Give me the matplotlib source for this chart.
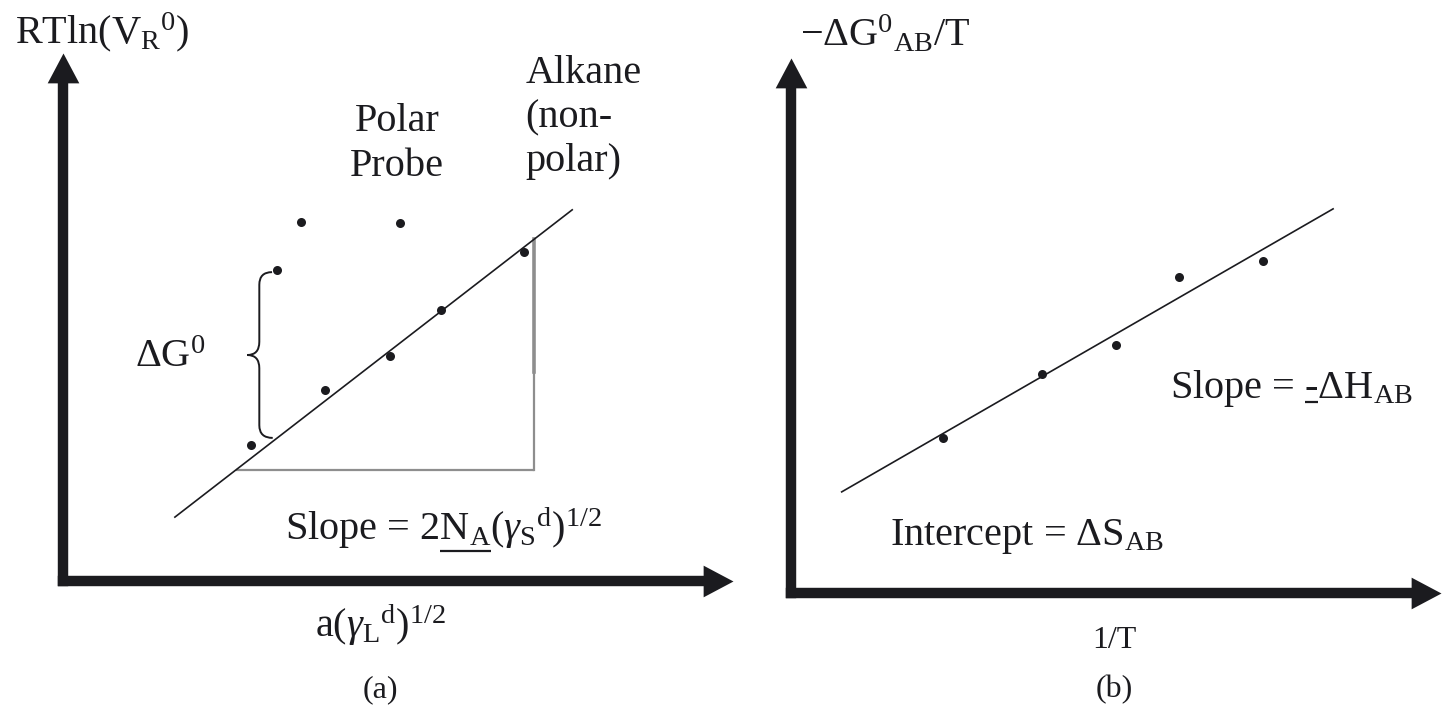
import numpy as np
import matplotlib.pyplot as plt
from matplotlib.path import Path
from matplotlib.patches import PathPatch

plt.rcParams['font.family'] = ['Liberation Serif', 'DejaVu Serif']
plt.rcParams['mathtext.fontset'] = 'custom'
plt.rcParams['mathtext.rm'] = 'Liberation Serif'
plt.rcParams['mathtext.it'] = 'Liberation Serif:italic'
plt.rcParams['mathtext.bf'] = 'Liberation Serif:bold'
plt.rcParams['mathtext.default'] = 'regular'

INK = '#1b1b1f'
GREY = '#8e8e8e'
FS = 29
FS_SMALL = 23

# panel (a): alkane series on the line, polar probes above it
alk_x = [2.81, 3.91, 4.88, 5.64, 6.88]
alk_y = [2.58, 3.62, 4.26, 5.13, 6.23]
polar_x = [3.19, 3.55, 5.03]
polar_y = [5.89, 6.80, 6.78]
line_a_x = [1.67, 7.60]
line_a_y = [1.21, 7.03]

# panel (b): van't Hoff style points and fitted line
vh_x = [2.34, 3.86, 5.00, 5.97, 7.26]
vh_y = [2.90, 4.09, 4.64, 5.91, 6.21]
line_b_x = [0.78, 8.34]
line_b_y = [1.89, 7.18]


def arrow_axes(ax, xmax, ymax):
    for side in ['top', 'right']:
        ax.spines[side].set_visible(False)
    for side in ['left', 'bottom']:
        ax.spines[side].set_linewidth(7.5)
        ax.spines[side].set_color(INK)
        ax.spines[side].set_capstyle('projecting')
    ax.spines['left'].set_bounds(0, ymax)
    ax.spines['bottom'].set_bounds(0, xmax)
    ax.set_xlim(0, 10)
    ax.set_ylim(0, 10)
    ax.set_xticks([])
    ax.set_yticks([])
    up = [(-0.53, -1), (0.53, -1), (0, 0), (-0.53, -1)]
    right = [(-1, -0.53), (-1, 0.53), (0, 0), (-1, -0.53)]
    ax.plot(0, 1, marker=up, ms=43, color=INK, mew=0,
            transform=ax.transAxes, clip_on=False)
    ax.plot(1, 0, marker=right, ms=43, color=INK, mew=0,
            transform=ax.transAxes, clip_on=False)


def underlined_text(ax, x, y, pre, mid, post, drop_px):
    # mathtext has no \underline, so measure the prefix and draw the rule
    kw = dict(fontsize=FS, color=INK, ha='left', va='baseline', clip_on=False)
    r = fig.canvas.get_renderer()
    x0, y0 = ax.transData.transform((x, y))
    w = []
    for s in (pre, pre + mid):
        t = ax.text(x, y, s, **kw)
        w.append(t.get_window_extent(r).width)
        t.remove()
    ax.text(x, y, pre + mid + post, **kw)
    inv = ax.transData.inverted()
    (ux0, uy), (ux1, _) = inv.transform([(x0 + w[0], y0 - drop_px),
                                          (x0 + w[1], y0 - drop_px)])
    ax.plot([ux0, ux1], [uy, uy], color=INK, lw=1.6, clip_on=False,
            solid_capstyle='butt')


fig = plt.figure(figsize=(14.43, 7.15), dpi=100)
fig.patch.set_facecolor('white')

ax1 = fig.add_axes([0.04366, 0.18741, 0.46431, 0.73846])
ax2 = fig.add_axes([0.54816, 0.17063, 0.45045, 0.74825])
for ax in (ax1, ax2):
    ax.patch.set_alpha(0)
arrow_axes(ax1, 9.7, 9.6)
arrow_axes(ax2, 9.7, 9.6)

# (a) slope triangle
tri_y = 2.10
tri_x0 = line_a_x[0] + (tri_y - line_a_y[0]) * (line_a_x[1] - line_a_x[0]) / (line_a_y[1] - line_a_y[0])
tri_x1 = 7.03
tri_top = line_a_y[0] + (tri_x1 - line_a_x[0]) * (line_a_y[1] - line_a_y[0]) / (line_a_x[1] - line_a_x[0])
ax1.plot([tri_x0, tri_x1], [tri_y, tri_y], color=GREY, lw=1.6, solid_capstyle='butt')
ax1.plot([tri_x1, tri_x1], [tri_y, 3.96], color=GREY, lw=1.6)
ax1.plot([tri_x1, tri_x1], [3.96, tri_top], color=GREY, lw=2.6)

ax1.plot(line_a_x, line_a_y, color=INK, lw=1.2)
ax1.plot(alk_x, alk_y, 'o', color=INK, ms=6.5, mew=0)
ax1.plot(polar_x, polar_y, 'o', color=INK, ms=6.5, mew=0)

# curly brace between the polar probe and the alkane line
verts = [(3.12, 5.85), (2.93, 5.85), (2.93, 5.61), (2.93, 4.53),
         (2.93, 4.28), (2.75, 4.28), (2.93, 4.28), (2.93, 4.03),
         (2.93, 2.95), (2.93, 2.71), (3.13, 2.71)]
codes = [Path.MOVETO, Path.CURVE3, Path.CURVE3, Path.LINETO,
         Path.CURVE3, Path.CURVE3, Path.CURVE3, Path.CURVE3,
         Path.LINETO, Path.CURVE3, Path.CURVE3]
ax1.add_patch(PathPatch(Path(verts, codes), fill=False, lw=1.4, ec=INK))

kw = dict(fontsize=FS, color=INK, clip_on=False)
ax1.text(-0.72, 10.4, r'RTln($V_R{}^0$)', ha='left', va='center', **kw)
ax1.text(4.99, 8.28, 'Polar\nProbe', ha='center', va='center', linespacing=1.3, **kw)
ax1.text(6.90, 8.77, 'Alkane\n(non-\npolar)', ha='left', va='center', linespacing=1.25, **kw)
ax1.text(1.07, 4.24, r'$\Delta G^0$', ha='left', va='center', **kw)
underlined_text(ax1, 3.31, 0.78, 'Slope = 2', r'$N_A$',
                r'$(\mathit{\gamma}_S{}^d)^{1/2}$', 11)
ax1.text(3.76, -0.83, r'$a(\mathit{\gamma}_L{}^d)^{1/2}$', ha='left', va='center', **kw)

# (b)
ax2.plot(line_b_x, line_b_y, color=INK, lw=1.2)
ax2.plot(vh_x, vh_y, 'o', color=INK, ms=6.5, mew=0)
ax2.text(0.14, 10.43, r'$-\Delta G^0{}_{AB}/T$', ha='left', va='center', **kw)
underlined_text(ax2, 5.83, 3.64, 'Slope = ', '-', r'$\Delta H_{AB}$', 4)
ax2.text(1.52, 1.06, r'Intercept = $\Delta S_{AB}$', ha='left', va='center', **kw)

kw['fontsize'] = FS_SMALL
ax2.text(4.98, -0.88, '1/T', ha='center', va='center', **kw)
ax1.text(4.73, -2.06, '(a)', ha='center', va='center', **kw)
ax2.text(4.98, -1.81, '(b)', ha='center', va='center', **kw)

fig.savefig('out.png', dpi=100, facecolor='white')
